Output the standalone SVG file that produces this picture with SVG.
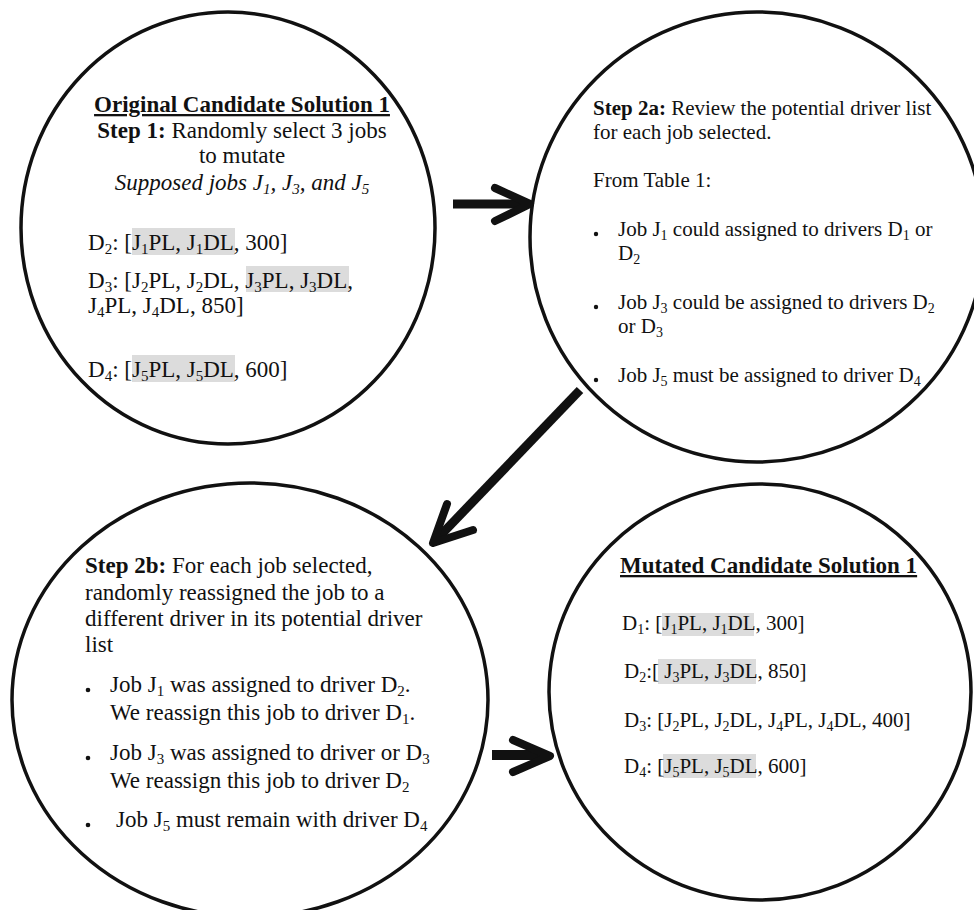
<svg xmlns="http://www.w3.org/2000/svg" width="974" height="910" viewBox="0 0 974 910">
<style>
.bub{fill:#fff;stroke:#111;stroke-width:3.5}
text{font-family:"Liberation Serif","Times New Roman",serif;fill:#111}
.f23{font-size:23px}
.f21{font-size:21px}
.b{font-weight:bold}
.i{font-style:italic}
.u{text-decoration:underline}
.s23{font-size:15px}
.s21{font-size:14px}
.hl{fill:#dcdcdc}
.dot{fill:#111}
.shaft{stroke:#111;fill:none;stroke-linecap:butt}
.head{stroke:#111;fill:none;stroke-linecap:round;stroke-linejoin:round}
</style>
<rect width="974" height="910" fill="#fff"/>

<g id="node-original">
<ellipse class="bub" cx="228" cy="228" rx="207" ry="216"/>
<rect class="hl" x="132" y="228" width="103" height="27"/>
<rect class="hl" x="246" y="266" width="103" height="26"/>
<rect class="hl" x="132" y="355" width="103" height="27"/>
<text class="f23 b u" x="242" y="112" text-anchor="middle">Original Candidate Solution 1</text>
<text class="f23" x="242" y="138" text-anchor="middle"><tspan class="b">Step 1:</tspan> Randomly select 3 jobs</text>
<text class="f23" x="242" y="163" text-anchor="middle">to mutate</text>
<text class="f23 i" x="242" y="190" text-anchor="middle">Supposed jobs J<tspan class="s23" dy="4">1</tspan><tspan dy="-4">, J</tspan><tspan class="s23" dy="4">3</tspan><tspan dy="-4">, and J</tspan><tspan class="s23" dy="4">5</tspan></text>
<text class="f23" x="88" y="250">D<tspan class="s23" dy="4">2</tspan><tspan dy="-4">: [J</tspan><tspan class="s23" dy="4">1</tspan><tspan dy="-4">PL, J</tspan><tspan class="s23" dy="4">1</tspan><tspan dy="-4">DL, 300]</tspan></text>
<text class="f23" x="88" y="288">D<tspan class="s23" dy="4">3</tspan><tspan dy="-4">: [J</tspan><tspan class="s23" dy="4">2</tspan><tspan dy="-4">PL, J</tspan><tspan class="s23" dy="4">2</tspan><tspan dy="-4">DL, J</tspan><tspan class="s23" dy="4">3</tspan><tspan dy="-4">PL, J</tspan><tspan class="s23" dy="4">3</tspan><tspan dy="-4">DL,</tspan></text>
<text class="f23" x="88" y="313">J<tspan class="s23" dy="4">4</tspan><tspan dy="-4">PL, J</tspan><tspan class="s23" dy="4">4</tspan><tspan dy="-4">DL, 850]</tspan></text>
<text class="f23" x="88" y="377">D<tspan class="s23" dy="4">4</tspan><tspan dy="-4">: [J</tspan><tspan class="s23" dy="4">5</tspan><tspan dy="-4">PL, J</tspan><tspan class="s23" dy="4">5</tspan><tspan dy="-4">DL, 600]</tspan></text>
</g>

<g id="node-step2a">
<ellipse class="bub" cx="757" cy="237" rx="227" ry="225"/>
<text class="f21" x="593" y="115"><tspan class="b">Step 2a:</tspan> Review the potential driver list</text>
<text class="f21" x="593" y="139">for each job selected.</text>
<text class="f21" x="593" y="187">From Table 1:</text>
<circle class="dot" cx="596" cy="234" r="2.2"/>
<text class="f21" x="618" y="236">Job J<tspan class="s21" dy="4">1</tspan><tspan dy="-4"> could assigned to drivers D</tspan><tspan class="s21" dy="4">1</tspan><tspan dy="-4"> or</tspan></text>
<text class="f21" x="618" y="260">D<tspan class="s21" dy="4">2</tspan></text>
<circle class="dot" cx="596" cy="307" r="2.2"/>
<text class="f21" x="618" y="309">Job J<tspan class="s21" dy="4">3</tspan><tspan dy="-4"> could be assigned to drivers D</tspan><tspan class="s21" dy="4">2</tspan></text>
<text class="f21" x="618" y="333">or D<tspan class="s21" dy="4">3</tspan></text>
<circle class="dot" cx="596" cy="380" r="2.2"/>
<text class="f21" x="618" y="382">Job J<tspan class="s21" dy="4">5</tspan><tspan dy="-4"> must be assigned to driver D</tspan><tspan class="s21" dy="4">4</tspan></text>
</g>

<g id="node-step2b">
<ellipse class="bub" cx="250" cy="700" rx="238" ry="217"/>
<text class="f23" x="85" y="573"><tspan class="b">Step 2b:</tspan> For each job selected,</text>
<text class="f23" x="85" y="600">randomly reassigned the job to a</text>
<text class="f23" x="85" y="626">different driver in its potential driver</text>
<text class="f23" x="85" y="652">list</text>
<circle class="dot" cx="88" cy="690" r="2.3"/>
<text class="f23" x="110" y="692">Job J<tspan class="s23" dy="4">1</tspan><tspan dy="-4"> was assigned to driver D</tspan><tspan class="s23" dy="4">2</tspan><tspan dy="-4">.</tspan></text>
<text class="f23" x="110" y="720">We reassign this job to driver D<tspan class="s23" dy="4">1</tspan><tspan dy="-4">.</tspan></text>
<circle class="dot" cx="88" cy="758" r="2.3"/>
<text class="f23" x="110" y="760">Job J<tspan class="s23" dy="4">3</tspan><tspan dy="-4"> was assigned to driver or D</tspan><tspan class="s23" dy="4">3</tspan></text>
<text class="f23" x="110" y="788">We reassign this job to driver D<tspan class="s23" dy="4">2</tspan></text>
<circle class="dot" cx="88" cy="825" r="2.3"/>
<text class="f23" x="116" y="827">Job J<tspan class="s23" dy="4">5</tspan><tspan dy="-4"> must remain with driver D</tspan><tspan class="s23" dy="4">4</tspan></text>
</g>

<g id="node-mutated">
<ellipse class="bub" cx="760" cy="692" rx="211" ry="208"/>
<rect class="hl" x="662" y="613" width="92" height="23"/>
<rect class="hl" x="658" y="659" width="98" height="25"/>
<rect class="hl" x="663" y="754" width="93" height="24"/>
<text class="f23 b u" x="620" y="573">Mutated Candidate Solution 1</text>
<text class="f21" x="622" y="630">D<tspan class="s21" dy="4">1</tspan><tspan dy="-4">: [J</tspan><tspan class="s21" dy="4">1</tspan><tspan dy="-4">PL, J</tspan><tspan class="s21" dy="4">1</tspan><tspan dy="-4">DL, 300]</tspan></text>
<text class="f21" x="624" y="678">D<tspan class="s21" dy="4">2</tspan><tspan dy="-4">:[ J</tspan><tspan class="s21" dy="4">3</tspan><tspan dy="-4">PL, J</tspan><tspan class="s21" dy="4">3</tspan><tspan dy="-4">DL, 850]</tspan></text>
<text class="f21" x="624" y="727">D<tspan class="s21" dy="4">3</tspan><tspan dy="-4">: [J</tspan><tspan class="s21" dy="4">2</tspan><tspan dy="-4">PL, J</tspan><tspan class="s21" dy="4">2</tspan><tspan dy="-4">DL, J</tspan><tspan class="s21" dy="4">4</tspan><tspan dy="-4">PL, J</tspan><tspan class="s21" dy="4">4</tspan><tspan dy="-4">DL, 400]</tspan></text>
<text class="f21" x="624" y="773">D<tspan class="s21" dy="4">4</tspan><tspan dy="-4">: [J</tspan><tspan class="s21" dy="4">5</tspan><tspan dy="-4">PL, J</tspan><tspan class="s21" dy="4">5</tspan><tspan dy="-4">DL, 600]</tspan></text>
</g>

<g id="connectors">
<line class="shaft" x1="453" y1="204" x2="526" y2="204" stroke-width="9"/>
<polyline class="head" points="495,188 530,204 495,221" stroke-width="8"/>
<line class="shaft" x1="580" y1="390" x2="437" y2="539" stroke-width="9"/>
<polyline class="head" points="447,504 433,543 473,530" stroke-width="8"/>
<line class="shaft" x1="492" y1="755" x2="546" y2="755" stroke-width="10"/>
<polyline class="head" points="513,740 550,756 513,772" stroke-width="8"/>
</g>
</svg>
